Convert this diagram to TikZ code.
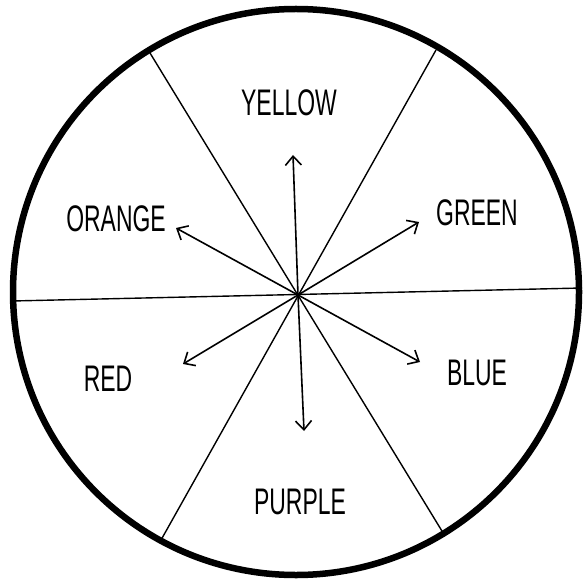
\documentclass[tikz,border=0pt]{standalone}
\usepackage{fontspec}
\usetikzlibrary{arrows.meta}
\newfontfamily\lblfont[FakeStretch=0.62]{Liberation Sans}
\begin{document}
\begin{tikzpicture}[x=1pt,y=-1pt,
  spoke/.style={line width=1.4pt},
  arr/.style={line width=1.6pt,-{Straight Barb[length=9pt,width=16pt]}},
  lbl/.style={font=\lblfont\fontsize{37}{37}\selectfont, inner sep=0pt}]
\useasboundingbox (0,0) rectangle (582,585);
\fill[white] (0,0) rectangle (582,585);
\node[circle, draw, line width=6.5pt, minimum size=566pt, inner sep=0pt] (wheel) at (296,292) {};
\coordinate (c) at (298,295);
% dividing lines
\coordinate (h1) at (12,301);
\coordinate (h2) at (582,288);
\coordinate (d1a) at (150,53);
\coordinate (d1b) at (445,536);
\coordinate (d2a) at (436,50);
\coordinate (d2b) at (161,540);
\draw[spoke] (h1) -- (h2);
\draw[spoke] (d1a) -- (d1b);
\draw[spoke] (d2a) -- (d2b);
% arrow tips
\coordinate (ty) at (293,155);
\coordinate (tp) at (304,431);
\coordinate (to) at (176,228);
\coordinate (tg) at (419,222);
\coordinate (tr) at (183,364);
\coordinate (tb) at (420,362);
\draw[arr] (c) -- (ty);
\draw[arr] (c) -- (tp);
\draw[arr] (c) -- (to);
\draw[arr] (c) -- (tg);
\draw[arr] (c) -- (tr);
\draw[arr] (c) -- (tb);
% labels
\node[lbl] (yellow) at (289,103) {YELLOW};
\node[lbl] (orange) at (116,219) {ORANGE};
\node[lbl] (green) at (477,213) {GREEN};
\node[lbl] (red) at (108,379) {RED};
\node[lbl] (blue) at (477,373) {BLUE};
\node[lbl] (purple) at (300,502) {PURPLE};
\end{tikzpicture}
\end{document}
